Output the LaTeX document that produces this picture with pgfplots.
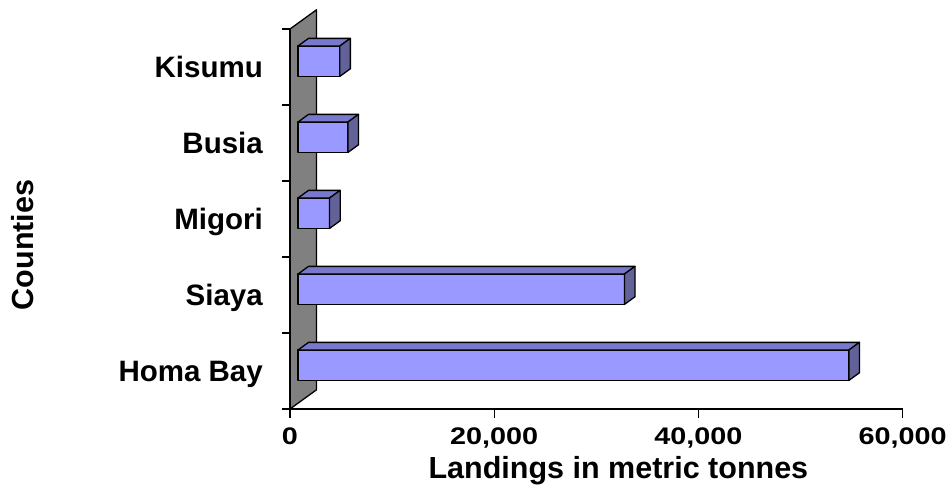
\documentclass[border=0pt]{standalone}
\usepackage{pgfplots}
\pgfplotsset{compat=1.18}
\usepackage{fontspec}
\setmainfont{Liberation Sans}
\newfontfamily\widesans[FakeStretch=1.2]{Liberation Sans}

\definecolor{barfront}{HTML}{9999FF}
\definecolor{bartop}{HTML}{7878CC}
\definecolor{barside}{HTML}{626299}
\definecolor{wallgray}{HTML}{808080}

\pgfplotsset{
  face/.style={draw=black, line width=1.3bp, line join=round},
}

% one 3-D bar: #1 = landings (t), #2/#3 = lower/upper edge on the county axis
\newcommand{\cuboid}[3]{%
  \addplot3[face, fill=barfront]
    coordinates {(0,0.3,#2) (#1,0.3,#2) (#1,0.3,#3) (0,0.3,#3)} --cycle;
  \addplot3[face, fill=bartop]
    coordinates {(0,0.3,#3) (#1,0.3,#3) (#1,0.7,#3) (0,0.7,#3)} --cycle;
  \addplot3[face, fill=barside]
    coordinates {(#1,0.3,#2) (#1,0.7,#2) (#1,0.7,#3) (#1,0.3,#3)} --cycle;
}

\begin{document}
\begin{tikzpicture}
\useasboundingbox (-290bp,-82bp) rectangle (662bp,409bp);

% oblique box: x = landings, y = depth, z = county slots
\begin{axis}[
  hide axis, clip=false,
  anchor=origin, at={(0,0)},
  x={(0.0102117bp,0bp)}, y={(26.5bp,19.2bp)}, z={(0bp,76bp)},
  xmin=0, xmax=60000, ymin=0, ymax=1, zmin=0, zmax=5,
]
  % back wall
  \addplot3[face, fill=wallgray]
    coordinates {(0,0,0) (0,1,0) (0,1,5) (0,0,5)} --cycle;
  % Homa Bay, Siaya, Migori, Busia, Kisumu
  \cuboid{54000}{0.3}{0.7}
  \cuboid{32000}{1.3}{1.7}
  \cuboid{3100}{2.3}{2.7}
  \cuboid{4900}{3.3}{3.7}
  \cuboid{4100}{4.3}{4.7}
\end{axis}

% front plane: axis lines, ticks and labels
\begin{axis}[
  scale only axis, width=612.7bp, height=380bp,
  anchor=origin, at={(0,0)},
  xmin=0, xmax=60000, ymin=0, ymax=5,
  axis lines*=left,
  axis line style={line width=1.5bp},
  tick align=outside,
  major tick length=9bp, minor tick length=8bp,
  every tick/.style={black, line width=1.2bp},
  scaled x ticks=false,
  xtick={0,20000,40000,60000},
  xticklabels={0,{20,000},{40,000},{60,000}},
  xticklabel style={anchor=base, inner sep=0pt, yshift=-27bp,
    font=\widesans\bfseries\fontsize{24bp}{28bp}\selectfont},
  ytick={0.5,1.5,2.5,3.5,4.5},
  yticklabels={Homa Bay,Siaya,Migori,Busia,Kisumu},
  major y tick style={draw=none},
  minor ytick={0,1,2,3,4,5},
  yticklabel style={anchor=base east, inner sep=0pt, yshift=-10.7bp, xshift=-18bp,
    font=\bfseries\fontsize{29.5bp}{34bp}\selectfont},
  xlabel={Landings in metric tonnes},
  xlabel style={at={(axis description cs:0.536,-0.1824)}, anchor=base, inner sep=0pt,
    font=\bfseries\fontsize{30.5bp}{36bp}\selectfont},
  ylabel={Counties},
  ylabel style={at={(axis description cs:-0.419,0.4316)}, anchor=base, inner sep=0pt, rotate=0,
    font=\bfseries\fontsize{30.5bp}{36bp}\selectfont},
]
\end{axis}
\end{tikzpicture}
\end{document}
